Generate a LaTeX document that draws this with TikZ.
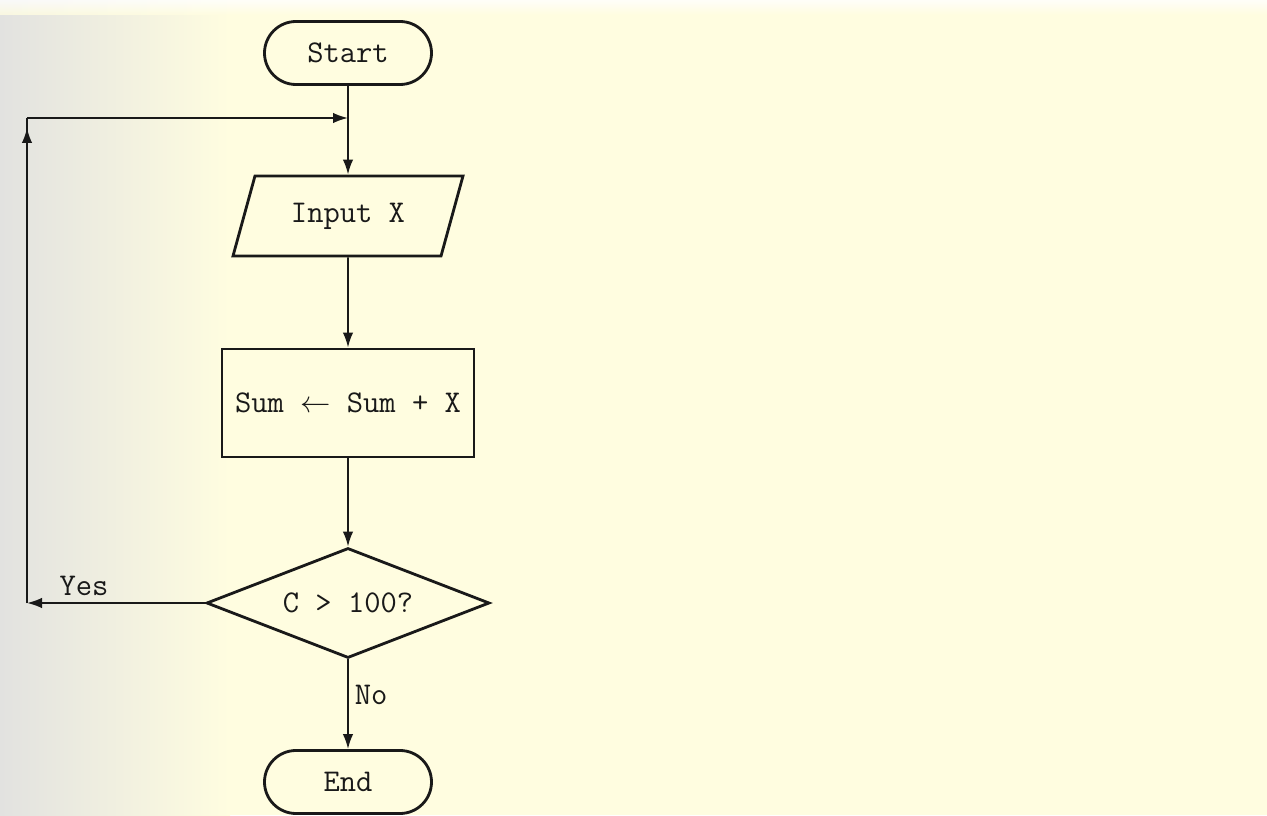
\documentclass[tikz,border=0pt]{standalone}
\usetikzlibrary{arrows.meta,shapes.geometric}
\definecolor{paper}{RGB}{255,253,224}
\definecolor{edge}{RGB}{226,226,224}
\definecolor{ink}{RGB}{25,25,25}

\begin{document}
\begin{tikzpicture}[line width=1.1pt,>={Latex[length=3mm,width=2.1mm]},draw=ink,
  font=\ttfamily\fontsize{18}{21}\selectfont,text=ink,
  term/.style={draw,line width=1.6pt,rounded corners=0.63cm,minimum width=3.34cm,minimum height=1.26cm},
  io/.style={draw,line width=1.6pt,trapezium,trapezium left angle=60,trapezium right angle=120,
    trapezium stretches body,minimum width=4.6cm,minimum height=1.6cm},
  proc/.style={draw,line width=1.6pt,minimum width=5.04cm,minimum height=2.16cm},
  test/.style={draw,line width=1.6pt,diamond,aspect=2.57,minimum width=5.66cm,minimum height=2.2cm,inner sep=0pt}]
  \useasboundingbox (0,0) rectangle (25.34,16.3);
  % fondo
  \fill[paper] (0,0) rectangle (25.34,16.3);
  \shade[left color=edge,right color=paper] (0,0) rectangle (4.6,16.3);
  \shade[top color=white,bottom color=paper,opacity=0.8] (0,16.0) rectangle (25.34,16.3);
  % bloques
  \node[term] (start) at (6.96,15.24) {Start};
  \node[io] (input) at (6.96,11.98) {Input X};
  \node[proc] (sum) at (6.96,8.24) {Sum $\leftarrow$ Sum + X};
  \node[test] (dec) at (6.96,4.24) {C > 100?};
  \node[term] (end) at (6.96,0.66) {End};
  % flechas
  \draw[->] (start) -- (input);
  \draw[->] (input) -- (sum);
  \draw[->] (sum) -- (dec);
  \draw[->] (dec) -- node[right,pos=0.4]{No} (end);
  % lazo de retorno
  \coordinate (yesc) at (0.54,4.24);
  \coordinate (topc) at (0.54,13.94);
  \coordinate (merge) at (6.96,13.94);
  \draw[->] (dec.west) -- node[above,pos=0.68]{Yes} (yesc);
  \draw (yesc) -- (topc);
  \draw[->] (yesc) -- ([yshift=-0.2cm]topc);
  \draw[->] (topc) -- (merge);
\end{tikzpicture}
\end{document}
